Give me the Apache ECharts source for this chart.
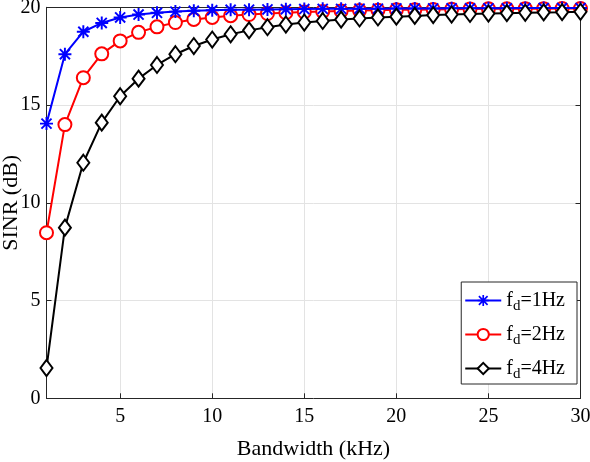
<!DOCTYPE html>
<html>
<head>
<meta charset="utf-8">
<script src="https://cdn.jsdelivr.net/npm/echarts@6/dist/echarts.min.js"></script>
<style>html,body{margin:0;padding:0;background:#fff;}#c{width:590px;height:462px;}</style>
</head>
<body>
<div id="c"></div>
<script>
const bandwidth = [1,2,3,4,5,6,7,8,9,10,11,12,13,14,15,16,17,18,19,20,21,22,23,24,25,26,27,28,29,30];
const sinrFd1 = [14.05,17.6,18.75,19.2,19.48,19.63,19.72,19.78,19.82,19.85,19.87,19.88,19.89,19.9,19.91,19.92,19.92,19.93,19.93,19.94,19.94,19.94,19.95,19.95,19.95,19.95,19.96,19.96,19.96,19.96];
const sinrFd2 = [8.47,14.0,16.4,17.62,18.28,18.72,19.0,19.22,19.38,19.48,19.57,19.63,19.68,19.72,19.76,19.79,19.81,19.83,19.85,19.87,19.88,19.89,19.9,19.91,19.92,19.92,19.93,19.93,19.94,19.94];
const sinrFd4 = [1.55,8.73,12.05,14.1,15.45,16.35,17.05,17.6,18.02,18.35,18.62,18.82,18.98,19.12,19.22,19.3,19.37,19.43,19.48,19.52,19.56,19.6,19.63,19.66,19.68,19.7,19.72,19.74,19.75,19.77];
const seriesNames = ['fd=1Hz','fd=2Hz','fd=4Hz'];
const xTicks = [5,10,15,20,25,30];

const font = 'Liberation Serif';
const axisColor = '#262626';
const asterisk = 'path://M0 8.5L20 8.5L20 11.5L0 11.5Z M8.5 0L11.5 0L11.5 20L8.5 20Z M1.2 3.3L3.3 1.2L18.8 16.7L16.7 18.8Z M16.7 1.2L18.8 3.3L3.3 18.8L1.2 16.7Z';

function pairs(ys){ return bandwidth.map((x,i)=>[x, ys[i]]); }

const chart = echarts.init(document.getElementById('c'), null, {renderer:'canvas'});
const baseX = {type:'value', min:1, max:30};
const baseY = {type:'value', min:0, max:20};
chart.setOption({
  animation:false,
  backgroundColor:'#fff',
  grid:{left:46.5, right:9.5, top:7.3, bottom:63.7, containLabel:false, outerBoundsMode:'none'},
  xAxis:[
    Object.assign({}, baseX, {
      position:'bottom',
      name:'Bandwidth (kHz)', nameLocation:'middle', nameGap:40, nameMoveOverlap:false,
      nameTextStyle:{fontFamily:font, fontSize:22, color:'#000'},
      axisLine:{show:true, lineStyle:{color:axisColor, width:1}},
      axisTick:{show:true, inside:true, length:5, customValues:xTicks, lineStyle:{color:axisColor}},
      axisLabel:{show:true, customValues:xTicks, margin:8, fontFamily:font, fontSize:20, color:'#000'},
      splitLine:{show:true, lineStyle:{color:'#e3e3e3', width:1}}
    }),
    Object.assign({}, baseX, {
      position:'top',
      axisLine:{show:true, onZero:false, lineStyle:{color:axisColor, width:1}},
      axisTick:{show:true, inside:true, length:5, customValues:xTicks, lineStyle:{color:axisColor}},
      axisLabel:{show:false},
      splitLine:{show:false}
    })
  ],
  yAxis:[
    Object.assign({}, baseY, {
      position:'left', interval:5,
      name:'SINR (dB)', nameLocation:'middle', nameGap:24, nameMoveOverlap:false,
      nameTextStyle:{fontFamily:font, fontSize:22, color:'#000'},
      axisLine:{show:true, lineStyle:{color:axisColor, width:1}},
      axisTick:{show:true, inside:true, length:5, lineStyle:{color:axisColor}},
      axisLabel:{show:true, margin:6, fontFamily:font, fontSize:20, color:'#000'},
      splitLine:{show:true, lineStyle:{color:'#e3e3e3', width:1}}
    }),
    Object.assign({}, baseY, {
      position:'right', interval:5,
      axisLine:{show:true, onZero:false, lineStyle:{color:axisColor, width:1}},
      axisTick:{show:true, inside:true, length:5, lineStyle:{color:axisColor}},
      axisLabel:{show:false},
      splitLine:{show:false}
    })
  ],
  legend:{
    orient:'vertical', right:13, bottom:78,
    backgroundColor:'#fff', borderColor:axisColor, borderWidth:1,
    padding:[4,12,2,3], itemGap:6, itemWidth:36, itemHeight:14,
    data:seriesNames,
    formatter:function(n){ return 'f{sub|d}{m|' + n.slice(2) + '}'; },
    textStyle:{fontFamily:font, fontSize:20, color:'#000',
      rich:{
        sub:{fontFamily:font, fontSize:15, color:'#000', lineHeight:27, verticalAlign:'bottom', padding:[13,0,0,0]},
        m:{fontFamily:font, fontSize:20, color:'#000', lineHeight:27}
      }}
  },
  series:[
    {name:seriesNames[0], type:'line', xAxisIndex:0, yAxisIndex:0, data:pairs(sinrFd1),
     symbol:asterisk, symbolSize:13, showAllSymbol:true,
     lineStyle:{color:'#0000ff', width:2}, itemStyle:{color:'#0000ff'}, z:4},
    {name:seriesNames[1], type:'line', xAxisIndex:0, yAxisIndex:0, data:pairs(sinrFd2),
     symbol:'emptyCircle', symbolSize:13, showAllSymbol:true,
     lineStyle:{color:'#ff0000', width:2}, itemStyle:{color:'#ff0000', borderWidth:2}, z:3},
    {name:seriesNames[2], type:'line', xAxisIndex:0, yAxisIndex:0, data:pairs(sinrFd4),
     symbol:'emptyDiamond', symbolSize:[12,16], showAllSymbol:true,
     lineStyle:{color:'#000000', width:2}, itemStyle:{color:'#000000', borderWidth:2}, z:5}
  ]
});
</script>
</body>
</html>
